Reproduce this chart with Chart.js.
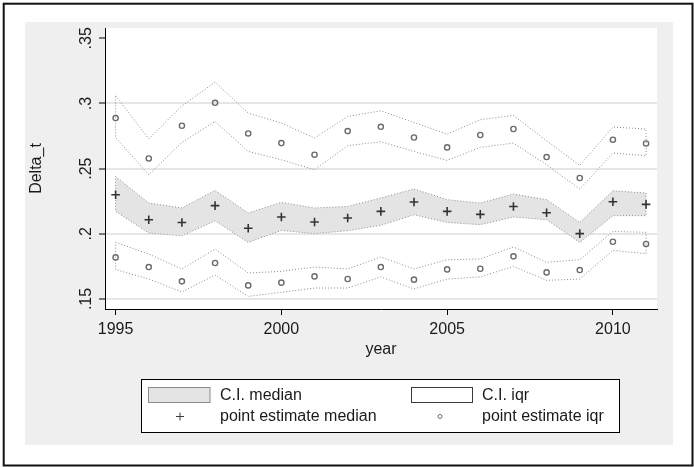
<!DOCTYPE html>
<html>
<head>
<meta charset="utf-8">
<script src="https://cdn.jsdelivr.net/npm/chart.js@4.4.1/dist/chart.umd.min.js"></script>
<style>
  html, body { margin: 0; padding: 0; background: #fff; }
  canvas { display: block; }
</style>
</head>
<body>
<canvas id="c" width="694" height="467"></canvas>
<script>
// Years on the x axis
const years = [1995, 1996, 1997, 1998, 1999, 2000, 2001, 2002, 2003,
               2004, 2005, 2006, 2007, 2008, 2009, 2010, 2011];

// Median: point estimate and confidence interval
const medianEst = [0.2300, 0.2108, 0.2087, 0.2216, 0.2042, 0.2129, 0.2090, 0.2121, 0.2172,
                   0.2244, 0.2172, 0.2149, 0.2210, 0.2162, 0.2001, 0.2246, 0.2226];
const medianHi  = [0.2440, 0.2236, 0.2198, 0.2333, 0.2160, 0.2241, 0.2198, 0.2210, 0.2275,
                   0.2344, 0.2262, 0.2236, 0.2305, 0.2262, 0.2087, 0.2330, 0.2313];
const medianLo  = [0.2172, 0.2006, 0.1985, 0.2100, 0.1934, 0.2026, 0.2001, 0.2024, 0.2065,
                   0.2146, 0.2087, 0.2070, 0.2129, 0.2108, 0.1934, 0.2139, 0.2139];

// Upper end of the interquartile range: estimate and interval
const iqrTopEst = [0.2888, 0.2578, 0.2829, 0.3005, 0.2770, 0.2696, 0.2607, 0.2788, 0.2821,
                   0.2739, 0.2663, 0.2758, 0.2804, 0.2589, 0.2428, 0.2722, 0.2693];
const iqrTopHi  = [0.3059, 0.2729, 0.2982, 0.3164, 0.2926, 0.2850, 0.2735, 0.2900, 0.2944,
                   0.2854, 0.2765, 0.2875, 0.2908, 0.2714, 0.2525, 0.2819, 0.2804];
const iqrTopLo  = [0.2739, 0.2453, 0.2701, 0.2862, 0.2632, 0.2568, 0.2492, 0.2676, 0.2706,
                   0.2632, 0.2563, 0.2663, 0.2696, 0.2530, 0.2343, 0.2620, 0.2599];

// Lower end of the interquartile range: estimate and interval
const iqrBotEst = [0.1819, 0.1745, 0.1635, 0.1776, 0.1604, 0.1625, 0.1673, 0.1653, 0.1745,
                   0.1648, 0.1727, 0.1732, 0.1827, 0.1704, 0.1722, 0.1939, 0.1922];
const iqrBotHi  = [0.1934, 0.1845, 0.1730, 0.1883, 0.1699, 0.1712, 0.1745, 0.1730, 0.1822,
                   0.1730, 0.1801, 0.1807, 0.1899, 0.1781, 0.1801, 0.2018, 0.2011];
const iqrBotLo  = [0.1725, 0.1653, 0.1554, 0.1684, 0.1520, 0.1551, 0.1584, 0.1584, 0.1669,
                   0.1577, 0.1653, 0.1669, 0.1750, 0.1643, 0.1653, 0.1873, 0.1847];

// Axis ticks
const xTicks = [1995, 2000, 2005, 2010];
const yTicks = [0.15, 0.2, 0.25, 0.3, 0.35];
const yTickLabels = ['.15', '.2', '.25', '.3', '.35'];

const FONT = '"Liberation Sans", Arial, Helvetica, sans-serif';
const TEXT = '#1a1a1a';
Chart.defaults.font.family = FONT;

const toPoints = vals => years.map((x, i) => ({ x, y: vals[i] }));

// Closed outline of a band: upper bound forwards, lower bound backwards
function bandOutline(hi, lo) {
  const pts = years.map((x, i) => ({ x, y: hi[i] }));
  for (let i = years.length - 1; i >= 0; i--) pts.push({ x: years[i], y: lo[i] });
  pts.push({ x: years[0], y: hi[0] });
  return pts;
}

const dottedEdge = {
  showLine: true, tension: 0, pointRadius: 0,
  borderColor: '#8c8c8c', borderWidth: 1, borderDash: [1, 2]
};

const crossMarker = {
  showLine: false, pointStyle: 'cross', pointRadius: 4.3,
  pointBorderColor: '#333', pointBorderWidth: 1.6
};
const ringMarker = {
  showLine: false, pointStyle: 'circle', pointRadius: 2.6,
  pointBorderColor: '#6b6b6b', pointBackgroundColor: 'rgba(0,0,0,0)', pointBorderWidth: 1.4
};

// Page frame, grey surround and white plot region
const backdrop = {
  id: 'backdrop',
  beforeDraw(chart) {
    const { ctx, chartArea: a } = chart;
    ctx.save();
    ctx.fillStyle = '#fff';
    ctx.fillRect(0, 0, chart.width, chart.height);
    ctx.fillStyle = '#efefef';
    ctx.fillRect(25, 22, 648, 423);
    ctx.fillStyle = '#fff';
    ctx.fillRect(a.left, a.top, a.right - a.left, a.bottom - a.top);
    ctx.restore();
  },
  afterDraw(chart) {
    const { ctx } = chart;
    ctx.save();
    ctx.strokeStyle = '#111';
    ctx.lineWidth = 2;
    ctx.strokeRect(3.7, 3.7, 688.8, 461.8);
    ctx.restore();
  }
};

// Vertical tick labels on the y axis
const yLabels = {
  id: 'yLabels',
  afterDraw(chart) {
    const { ctx } = chart;
    const ys = chart.scales.y;
    ctx.save();
    ctx.font = '16px ' + FONT;
    ctx.fillStyle = TEXT;
    ctx.textAlign = 'center';
    ctx.textBaseline = 'middle';
    yTicks.forEach((v, i) => {
      ctx.save();
      ctx.translate(87, ys.getPixelForValue(v));
      ctx.rotate(-Math.PI / 2);
      ctx.fillText(yTickLabels[i], 0, 0);
      ctx.restore();
    });
    ctx.restore();
  }
};

// Two-column key below the plot
const keyBox = {
  id: 'keyBox',
  afterDraw(chart) {
    const { ctx } = chart;
    ctx.save();
    ctx.fillStyle = '#fff';
    ctx.fillRect(141.5, 379.5, 478, 53);
    ctx.strokeStyle = '#000';
    ctx.lineWidth = 1;
    ctx.strokeRect(141.5, 379.5, 478, 53);

    ctx.fillStyle = '#e4e4e4';
    ctx.fillRect(148.5, 387.5, 61.5, 15);
    ctx.strokeStyle = '#8c8c8c';
    ctx.strokeRect(148.5, 387.5, 61.5, 15);

    ctx.fillStyle = '#fff';
    ctx.fillRect(411.5, 387.5, 61, 15);
    ctx.strokeStyle = '#3a3a3a';
    ctx.strokeRect(411.5, 387.5, 61, 15);

    Chart.helpers.drawPoint(ctx, { pointStyle: 'cross', radius: 4, borderWidth: 1 }, 180, 416.5);
    ctx.strokeStyle = '#6b6b6b';
    Chart.helpers.drawPoint(ctx, { pointStyle: 'circle', radius: 2, borderWidth: 1 }, 440, 416.5);

    ctx.font = '16px ' + FONT;
    ctx.fillStyle = TEXT;
    ctx.textAlign = 'left';
    ctx.textBaseline = 'middle';
    ctx.fillText('C.I. median', 220, 395.5);
    ctx.fillText('C.I. iqr', 482, 395.5);
    ctx.fillText('point estimate median', 220, 416.5);
    ctx.fillText('point estimate iqr', 482, 416.5);
    ctx.restore();
  }
};

new Chart(document.getElementById('c'), {
  type: 'scatter',
  data: {
    datasets: [
      { label: 'point estimate median', data: toPoints(medianEst), ...crossMarker },
      { label: 'point estimate iqr', data: toPoints(iqrTopEst), ...ringMarker },
      { label: 'point estimate iqr (lower)', data: toPoints(iqrBotEst), ...ringMarker },
      { label: 'C.I. median', data: bandOutline(medianHi, medianLo), ...dottedEdge,
        fill: 'shape', backgroundColor: '#e4e4e4' },
      { label: 'C.I. iqr', data: bandOutline(iqrTopHi, iqrTopLo), ...dottedEdge, fill: false },
      { label: 'C.I. iqr (lower)', data: bandOutline(iqrBotHi, iqrBotLo), ...dottedEdge, fill: false }
    ]
  },
  options: {
    responsive: false,
    animation: false,
    devicePixelRatio: 1,
    layout: { padding: { left: 25, top: 28, right: 37, bottom: 108 } },
    plugins: {
      legend: { display: false },
      tooltip: { enabled: false },
      title: { display: false }
    },
    scales: {
      x: {
        type: 'linear',
        min: 1994.68,
        max: 2011.33,
        afterBuildTicks: s => { s.ticks = xTicks.map(v => ({ value: v })); },
        afterFit: s => { s.height = 50; },
        grid: { drawOnChartArea: false, drawTicks: true, tickLength: 6, tickColor: '#000' },
        border: { display: true, color: '#000', width: 1 },
        ticks: {
          font: { size: 16 }, color: TEXT, padding: 5, maxRotation: 0, minRotation: 0,
          callback: v => String(v)
        },
        title: {
          display: true, text: 'year', font: { size: 16 }, color: TEXT,
          padding: { top: 0, bottom: 0 }
        }
      },
      y: {
        type: 'linear',
        min: 0.1423,
        max: 0.3579,
        afterBuildTicks: s => { s.ticks = yTicks.map(v => ({ value: v })); },
        afterFit: s => { s.width = 80; },
        grid: {
          color: c => (c.tick && Math.abs(c.tick.value - 0.35) < 1e-6) ? 'rgba(0,0,0,0)' : '#e6e6e6',
          lineWidth: 2, drawTicks: true, tickLength: 6, tickColor: '#000', tickWidth: 1
        },
        border: { display: true, color: '#000', width: 1 },
        ticks: { display: false },
        title: {
          display: true, text: 'Delta_t', font: { size: 16 }, color: TEXT,
          padding: { top: 2, bottom: 0 }
        }
      }
    }
  },
  plugins: [backdrop, yLabels, keyBox]
});
</script>
</body>
</html>
